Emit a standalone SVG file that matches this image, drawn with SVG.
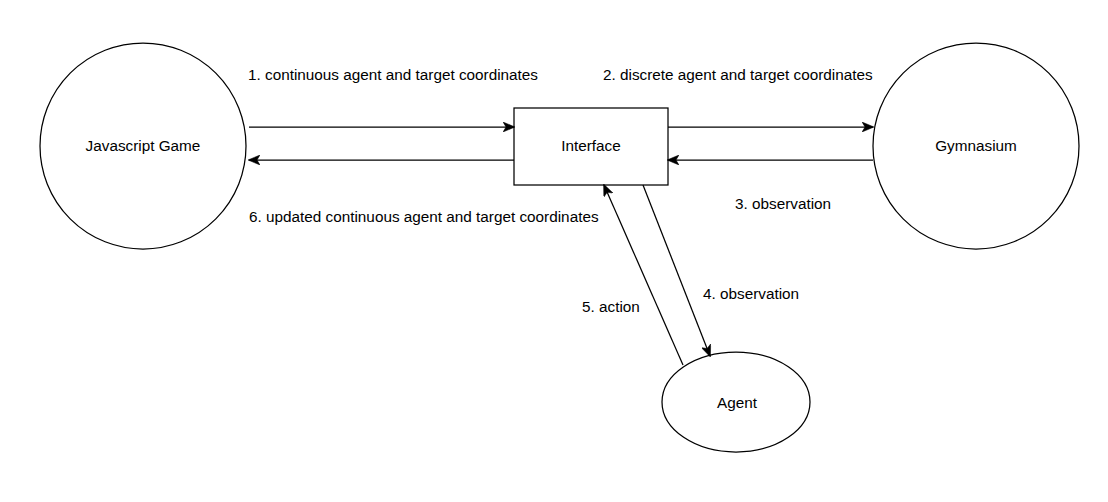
<svg xmlns="http://www.w3.org/2000/svg" width="1108" height="502" viewBox="0 0 1108 502">
<style>
.shape{fill:#fff;stroke:#000;stroke-width:1.25}
.edge{fill:none;stroke:#000;stroke-width:1.25}
text{font-family:"Liberation Sans",Arial,sans-serif;font-size:15.3px;fill:#000}
.c{text-anchor:middle}
</style>
<defs>
<marker id="arr" viewBox="0 0 12 10" refX="11" refY="5" markerWidth="12" markerHeight="10" markerUnits="userSpaceOnUse" orient="auto">
<path d="M0,0 L12,5 L0,10 L3,5 Z" fill="#000" stroke="#000" stroke-width="0.5"/>
</marker>
</defs>
<rect width="1108" height="502" fill="#fff"/>
<g id="node-game">
<circle class="shape" cx="143" cy="146" r="103"/>
<text class="c" x="143" y="151">Javascript Game</text>
</g>
<g id="node-interface">
<rect class="shape" x="514" y="108" width="154" height="77"/>
<text class="c" x="591" y="151">Interface</text>
</g>
<g id="node-gym">
<circle class="shape" cx="976" cy="146" r="103"/>
<text class="c" x="976" y="151">Gymnasium</text>
</g>
<g id="node-agent">
<ellipse class="shape" cx="736" cy="402" rx="74" ry="50"/>
<text class="c" x="737" y="408">Agent</text>
</g>
<g id="connectors">
<line class="edge" x1="249" y1="127" x2="514" y2="127" marker-end="url(#arr)"/>
<line class="edge" x1="668" y1="127" x2="873" y2="127" marker-end="url(#arr)"/>
<line class="edge" x1="873" y1="160" x2="668" y2="160" marker-end="url(#arr)"/>
<line class="edge" x1="514" y1="160" x2="249" y2="160" marker-end="url(#arr)"/>
<line class="edge" x1="643" y1="185" x2="710" y2="356" marker-end="url(#arr)"/>
<line class="edge" x1="683" y1="365" x2="604" y2="185" marker-end="url(#arr)"/>
</g>
<g id="labels">
<text x="248" y="80">1. continuous agent and target coordinates</text>
<text x="603" y="80">2. discrete agent and target coordinates</text>
<text x="735" y="209">3. observation</text>
<text x="703" y="299">4. observation</text>
<text x="582" y="312">5. action</text>
<text x="249" y="222">6. updated continuous agent and target coordinates</text>
</g>
</svg>
